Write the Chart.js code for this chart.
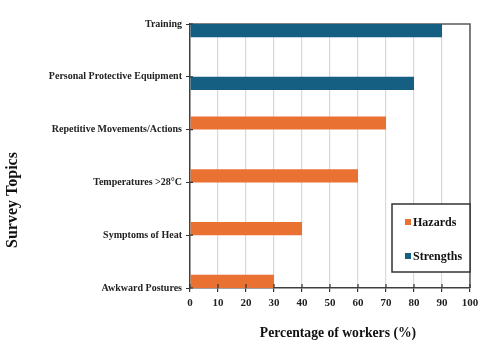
<!DOCTYPE html>
<html>
<head>
<meta charset="utf-8">
<script src="https://cdn.jsdelivr.net/npm/chart.js@4.4.0/dist/chart.umd.min.js"></script>
<style>
  html, body { margin: 0; padding: 0; background: #ffffff; }
  #wrap { width: 480px; height: 358px; position: relative; }
</style>
</head>
<body>
<div id="wrap"><canvas id="c" width="480" height="358"></canvas></div>
<script>
const categories = ["Training", "Personal Protective Equipment", "Repetitive Movements/Actions", "Temperatures >28°C", "Symptoms of Heat", "Awkward Postures"];
const hazards = [null, null, 70, 60, 40, 30];
const strengths = [90, 80, null, null, null, null];
const xTicks = [0, 10, 20, 30, 40, 50, 60, 70, 80, 90, 100];
const xTitle = "Percentage of workers (%)";
const yTitle = "Survey Topics";

const SERIF = '"Liberation Serif", "Times New Roman", serif';
const ORANGE = '#E97132';
const BLUE = '#156082';

const decor = {
  id: 'decor',
  beforeDatasetsDraw(chart) {
    const { ctx, chartArea: a } = chart;
    ctx.save();
    ctx.strokeStyle = '#595959';
    ctx.lineWidth = 1.5;
    ctx.beginPath();
    ctx.moveTo(a.left, a.top);
    ctx.lineTo(a.right, a.top);
    ctx.lineTo(a.right, a.bottom);
    ctx.stroke();
    ctx.restore();
  },
  afterDraw(chart) {
    const { ctx, chartArea: a } = chart;
    const xs = chart.scales.x, ys = chart.scales.y;
    ctx.save();
    // inner halves of the crossing tick marks
    ctx.strokeStyle = '#333';
    ctx.lineWidth = 1.2;
    ctx.beginPath();
    ys.ticks.forEach((t, i) => {
      const p = ys.getPixelForTick(i);
      ctx.moveTo(a.left, p); ctx.lineTo(a.left + 3, p);
    });
    xs.ticks.forEach((t, i) => {
      const p = xs.getPixelForTick(i);
      ctx.moveTo(p, a.bottom); ctx.lineTo(p, a.bottom - 4);
    });
    ctx.stroke();
    ctx.restore();

    // axis titles
    ctx.save();
    ctx.fillStyle = '#111';
    ctx.textAlign = 'center';
    ctx.textBaseline = 'middle';
    ctx.font = 'bold 15px ' + SERIF;
    ctx.translate(338, 333);
    ctx.scale(0.91, 1);
    ctx.fillText(xTitle, 0, 0);
    ctx.restore();
    ctx.save();
    ctx.fillStyle = '#111';
    ctx.textAlign = 'center';
    ctx.textBaseline = 'middle';
    ctx.translate(13, 200);
    ctx.rotate(-Math.PI / 2);
    ctx.font = 'bold 16px ' + SERIF;
    ctx.fillText(yTitle, 0, 0);
    ctx.restore();

    // legend box inside plot
    ctx.save();
    const bx = 392, by = 204, bw = 78, bh = 68;
    ctx.fillStyle = '#fff';
    ctx.fillRect(bx, by, bw, bh);
    ctx.strokeStyle = '#333';
    ctx.lineWidth = 1.5;
    ctx.strokeRect(bx, by, bw, bh);
    const ds = chart.data.datasets;
    const ly = [222, 256];
    ctx.font = 'bold 12px ' + SERIF;
    ctx.textAlign = 'left';
    ctx.textBaseline = 'middle';
    ds.forEach((d, i) => {
      ctx.fillStyle = d.backgroundColor;
      ctx.fillRect(405, ly[i] - 3, 6, 6);
      ctx.fillStyle = '#111';
      ctx.fillText(d.label, 413, ly[i] + 1);
    });
    ctx.restore();
  }
};

new Chart(document.getElementById('c'), {
  type: 'bar',
  data: {
    labels: categories,
    datasets: [
      { label: 'Hazards', data: hazards, backgroundColor: ORANGE, categoryPercentage: 0.5, barPercentage: 1.0 },
      { label: 'Strengths', data: strengths, backgroundColor: BLUE, categoryPercentage: 0.5, barPercentage: 1.0 }
    ]
  },
  options: {
    indexAxis: 'y',
    responsive: false,
    animation: false,
    devicePixelRatio: 1,
    layout: { padding: { top: 24, right: 10, left: 0, bottom: 0 } },
    plugins: { legend: { display: false }, tooltip: { enabled: false } },
    scales: {
      x: {
        type: 'linear',
        min: 0, max: 100,
        afterBuildTicks(scale) { scale.ticks = xTicks.map(v => ({ value: v })); },
        afterFit(scale) { scale.height = 70; scale.paddingRight = 0; scale.paddingLeft = 0; },
        grid: { color: '#d9d9d9', lineWidth: 1.2, tickColor: '#333', tickLength: 4, drawTicks: true },
        border: { display: true, color: '#404040', width: 1.5 },
        ticks: { color: '#222', font: { family: SERIF, size: 11, weight: 'bold' }, padding: 5, maxRotation: 0 }
      },
      y: {
        type: 'category',
        offset: false,
        afterFit(scale) { scale.width = 190; scale.paddingTop = 0; scale.paddingBottom = 0; },
        grid: { offset: false, drawOnChartArea: false, tickColor: '#333', tickLength: 4 },
        border: { display: true, color: '#404040', width: 1.5 },
        ticks: { color: '#222', font: { family: SERIF, size: 10, weight: 'bold' }, padding: 4, autoSkip: false }
      }
    }
  },
  plugins: [decor]
});
</script>
</body>
</html>
